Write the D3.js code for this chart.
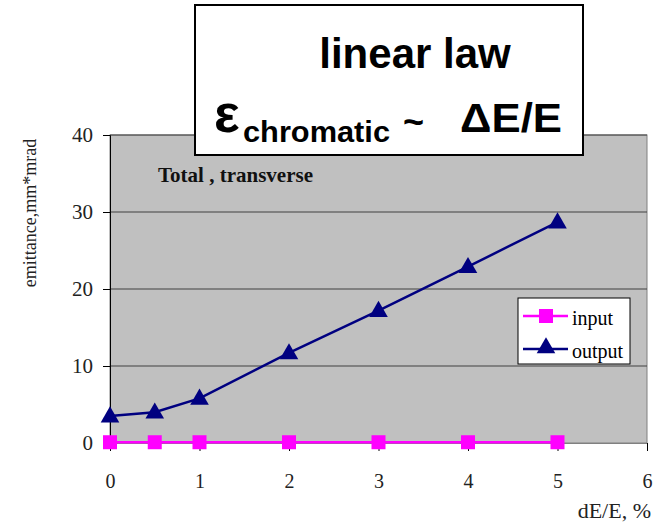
<!DOCTYPE html>
<html>
<head>
<meta charset="utf-8">
<script src="https://cdn.jsdelivr.net/npm/d3@7"></script>
<style>
body{margin:0;background:#fff;}
</style>
</head>
<body>
<script>
var width=657;
var height=526;
var xValues=[0,0.5,1,2,3,4,5];
var inputValues=[0.1,0.1,0.1,0.1,0.1,0.1,0.1];
var outputValues=[3.5,4.0,5.8,11.7,17.2,22.9,28.7];
var xTicks=[0,1,2,3,4,5,6];
var yTicks=[0,10,20,30,40];
var plot={left:110,right:647,top:135,bottom:443};

var svg=d3.select("body").append("svg").attr("width",width).attr("height",height);
var x=d3.scaleLinear().domain([0,6]).range([plot.left,plot.right]);
var y=d3.scaleLinear().domain([0,40]).range([plot.bottom,plot.top]);
var serif="'Liberation Serif','Times New Roman',serif";
var sans="'Liberation Sans',Arial,sans-serif";

// plot area
svg.append("rect").attr("x",plot.left).attr("y",plot.top)
    .attr("width",plot.right-plot.left).attr("height",plot.bottom-plot.top)
    .attr("fill","#c0c0c0").attr("stroke","#808080").attr("stroke-width",1);

// gridlines
svg.selectAll(".grid").data(yTicks.slice(1)).enter().append("line")
    .attr("x1",plot.left).attr("x2",plot.right)
    .attr("y1",function(d){return y(d);}).attr("y2",function(d){return y(d);})
    .attr("stroke","#404040").attr("stroke-width",1);

// axes
var yAxis=d3.axisLeft(y).tickValues(yTicks).tickSize(7).tickPadding(10);
var gy=svg.append("g").attr("transform","translate("+plot.left+",0)").call(yAxis);
var xAxis=d3.axisBottom(x).tickValues(xTicks).tickFormat(d3.format("d")).tickSize(8).tickPadding(23);
var gx=svg.append("g").attr("transform","translate(0,"+plot.bottom+")").call(xAxis);
[gx,gy].forEach(function(g){
    g.select(".domain").attr("stroke","#000");
    g.selectAll(".tick line").attr("stroke","#000");
    g.selectAll(".tick text").attr("font-family",serif).attr("font-size","21px").attr("fill","#222");
});
gx.selectAll(".tick text").attr("font-size","20px");
gx.select(".domain").attr("stroke","#808080");

// lines
var line=d3.line().x(function(d){return x(d[0]);}).y(function(d){return y(d[1]);});
var inputPts=xValues.map(function(v,i){return [v,inputValues[i]];});
var outputPts=xValues.map(function(v,i){return [v,outputValues[i]];});
svg.append("path").datum(inputPts).attr("d",line).attr("fill","none")
    .attr("stroke","#ff00ff").attr("stroke-width",2.5);
svg.append("path").datum(outputPts).attr("d",line).attr("fill","none")
    .attr("stroke","#000080").attr("stroke-width",2.5);

var sq=14;
svg.selectAll(".sq").data(inputPts).enter().append("rect")
    .attr("x",function(d){return x(d[0])-sq/2;})
    .attr("y",function(d){return y(d[1])-sq/2;})
    .attr("width",sq).attr("height",sq).attr("fill","#ff00ff");
var tri=d3.symbol().type(d3.symbolTriangle).size(150);
svg.selectAll(".tri").data(outputPts).enter().append("path")
    .attr("d",tri)
    .attr("transform",function(d){return "translate("+x(d[0])+","+(y(d[1])+1)+")";})
    .attr("fill","#000080");

// inner title
svg.append("text").attr("x",158).attr("y",182).attr("font-family",serif)
    .attr("font-weight","bold").attr("font-size","21px").attr("fill","#111")
    .text("Total , transverse");

// legend
var lg=svg.append("g").attr("transform","translate(518,298)");
lg.append("rect").attr("width",112).attr("height",66).attr("fill","#fff").attr("stroke","#000");
lg.append("line").attr("x1",5).attr("x2",50).attr("y1",18).attr("y2",18).attr("stroke","#ff00ff").attr("stroke-width",2.5);
lg.append("rect").attr("x",21).attr("y",11).attr("width",14).attr("height",14).attr("fill","#ff00ff");
lg.append("text").attr("x",54).attr("y",27).attr("font-family",serif).attr("font-size","20px").text("input");
lg.append("line").attr("x1",5).attr("x2",50).attr("y1",51).attr("y2",51).attr("stroke","#000080").attr("stroke-width",2.5);
lg.append("path").attr("d",tri).attr("transform","translate(28,50)").attr("fill","#000080");
lg.append("text").attr("x",54).attr("y",60).attr("font-family",serif).attr("font-size","20px").text("output");

// axis titles
svg.append("text").attr("transform","translate(36,213) rotate(-90)").attr("text-anchor","middle")
    .attr("font-family",serif).attr("font-size","18px").attr("fill","#222").text("emittance,mm*mrad");
svg.append("text").attr("x",651).attr("y",518).attr("text-anchor","end")
    .attr("font-family",serif).attr("font-size","22px").attr("fill","#222").text("dE/E, %");

// big title box
var tb=svg.append("g");
tb.append("rect").attr("x",195).attr("y",5).attr("width",388).attr("height",150)
    .attr("fill","#fff").attr("stroke","#000").attr("stroke-width",2);
tb.append("text").attr("x",415).attr("y",68).attr("text-anchor","middle")
    .attr("font-family",sans).attr("font-weight","bold").attr("font-size","42px").text("linear law");
tb.append("text").attr("x",214).attr("y",132).attr("font-family",sans).attr("font-weight","bold")
    .attr("font-size","54px").text("ε");
tb.append("text").attr("x",243).attr("y",142).attr("font-family",sans).attr("font-weight","bold")
    .attr("font-size","30px").attr("textLength",147).attr("lengthAdjust","spacingAndGlyphs").text("chromatic");
tb.append("text").attr("x",403).attr("y",134).attr("font-family",sans).attr("font-weight","bold")
    .attr("font-size","36px").text("~");
tb.append("text").attr("x",460).attr("y",132).attr("font-family",sans).attr("font-weight","bold")
    .attr("font-size","40px").attr("textLength",102).attr("lengthAdjust","spacingAndGlyphs").text("ΔE/E");
</script>
</body>
</html>
